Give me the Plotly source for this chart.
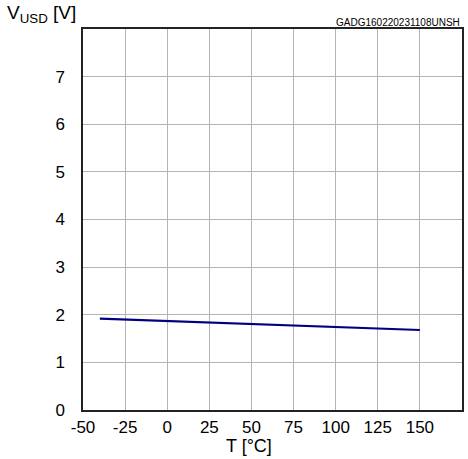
import plotly.graph_objects as go

temps = [-40, 0, 25, 50, 75, 100, 125, 150]
vusd = [1.92, 1.87, 1.84, 1.80, 1.77, 1.74, 1.71, 1.68]
x_ticks = [-50, -25, 0, 25, 50, 75, 100, 125, 150]
y_ticks = [0, 1, 2, 3, 4, 5, 6, 7]

fig = go.Figure()
fig.add_trace(go.Scatter(x=temps, y=vusd, mode="lines",
                         line=dict(color="#000080", width=2.2), showlegend=False))

font = "Liberation Sans, Arial, sans-serif"
fig.update_layout(
    width=468, height=459,
    margin=dict(l=83, r=4, t=29, b=49),
    paper_bgcolor="white", plot_bgcolor="white",
    font=dict(family=font, color="black", size=17),
)
fig.update_xaxes(range=[-50, 175], tickvals=x_ticks, ticktext=[str(v) for v in x_ticks],
                 showgrid=True, gridcolor="#b4b4b4", gridwidth=1,
                 showline=True, linecolor="#222", linewidth=1.5, mirror=True,
                 zeroline=False, ticks="", ticklabelstandoff=1, tickfont=dict(size=17))
fig.update_yaxes(range=[0, 8], tickvals=y_ticks + [8], ticktext=[str(v) for v in y_ticks] + [""],
                 showgrid=True, gridcolor="#b4b4b4", gridwidth=1,
                 showline=True, linecolor="#222", linewidth=1.5, mirror=True,
                 zeroline=False, ticks="", ticklabelstandoff=13, tickfont=dict(size=17))

fig.add_annotation(text="V<sub>USD</sub> [V]", xref="paper", yref="paper",
                   x=-0.205, y=1.04, xanchor="left", yanchor="middle",
                   showarrow=False, font=dict(size=19))
fig.add_annotation(text="GADG160220231108UNSH", xref="paper", yref="paper",
                   x=1, y=1.016, xanchor="right", yanchor="middle",
                   showarrow=False, font=dict(size=10))
fig.add_annotation(text="T [°C]", xref="paper", yref="paper",
                   x=0.438, y=-0.094, xanchor="center", yanchor="middle",
                   showarrow=False, font=dict(size=18))

fig.write_html("out.html", config={"displayModeBar": False},
               post_script="document.body.style.margin='0';document.body.style.overflow='hidden';")
